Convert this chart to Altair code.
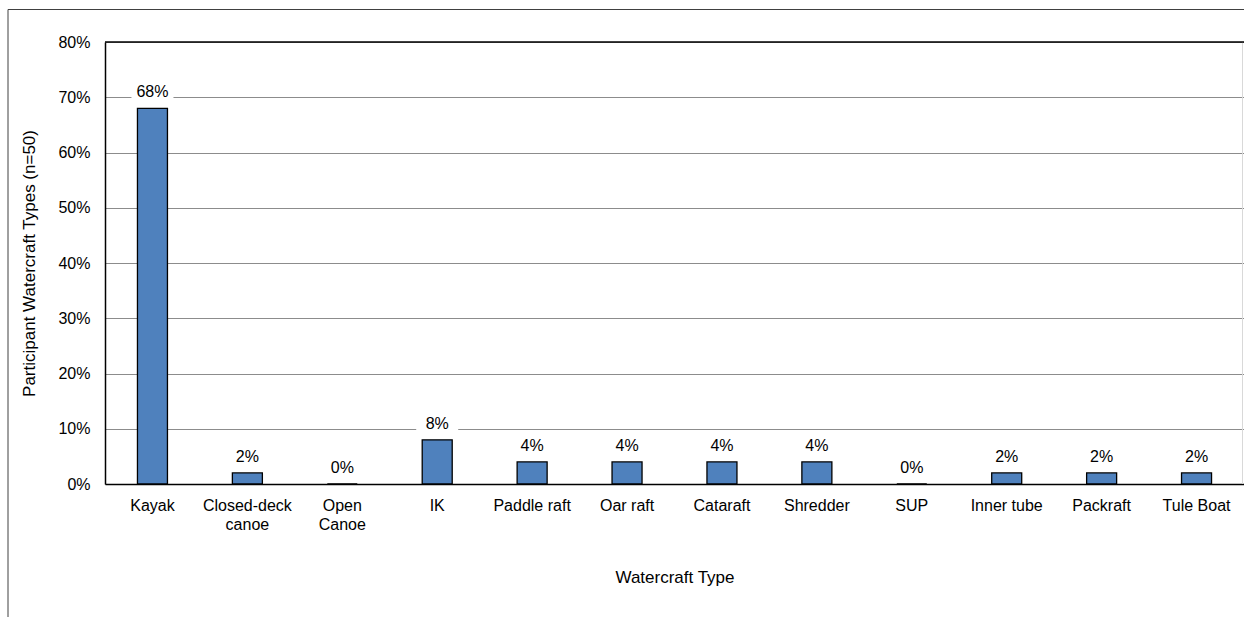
import altair as alt
import pandas as pd

categories = ["Kayak", "Closed-deck canoe", "Open Canoe", "IK", "Paddle raft", "Oar raft",
              "Cataraft", "Shredder", "SUP", "Inner tube", "Packraft", "Tule Boat"]
values = [68, 2, 0, 8, 4, 4, 4, 4, 0, 2, 2, 2]
y_ticks = [0, 10, 20, 30, 40, 50, 60, 70, 80]

df = pd.DataFrame({"cat": categories, "val": values})
df["lab"] = df["val"].astype(str) + "%"

FONT = "Liberation Sans"
W, H = 1139, 442

x_enc = alt.X("cat:N", sort=categories, title="Watercraft Type",
              scale=alt.Scale(paddingInner=0, paddingOuter=0),
              axis=alt.Axis(labelAngle=0, labelFontSize=16, labelColor="black", labelFont=FONT,
                            labelExpr="datum.label == 'Closed-deck canoe' || datum.label == 'Open Canoe' ? split(datum.label, ' ') : datum.label",
                            labelPadding=13, labelLineHeight=19, labelBaseline="top",
                            ticks=False, domainColor="black", domainWidth=1.5,
                            titleFontSize=17, titleFont=FONT, titleFontWeight="normal",
                            titleColor="black", titleY=93, titleBaseline="middle"))

y_scale = alt.Scale(domain=[0, 80], nice=False)

base = alt.Chart(df)

frame = alt.Chart(alt.Data(values=[{"a": 1}])).mark_rect(
    fillOpacity=0, stroke="#404040", strokeWidth=1
).encode(x=alt.value(8 - 105), x2=alt.value(1270 - 105), y=alt.value(9.5 - 42), y2=alt.value(700))

right_edge = alt.Chart(alt.Data(values=[{"a": 1}])).mark_rule(color="#d9d9d9", strokeWidth=1).encode(
    x=alt.value(W - 1.5), y=alt.value(0), y2=alt.value(H)
)

bars = base.mark_bar(width=30, color="#4F81BD", stroke="black", strokeWidth=1.3).encode(
    x=x_enc,
    y=alt.Y("val:Q", scale=y_scale, title="Participant Watercraft Types (n=50)",
            axis=alt.Axis(values=y_ticks, labelExpr="datum.value + '%'", labelFontSize=16,
                          labelFont=FONT, labelColor="black", labelPadding=15, ticks=False,
                          domainColor="black", domainWidth=1.5,
                          grid=True, gridColor="#8c8c8c", gridWidth=1.2,
                          titleFontSize=17, titleFont=FONT, titleFontWeight="normal",
                          titleColor="black", titleX=-76, titleY=H / 2, titleAngle=-90,
                          titleBaseline="middle", titleAlign="center")),
)

label_bg = base.mark_bar(width=42, color="white", yOffset=-24, y2Offset=-7).encode(
    x=alt.X("cat:N", sort=categories),
    y=alt.Y("val:Q", scale=y_scale),
    y2="val:Q",
)

labels = base.mark_text(fontSize=16, font=FONT, color="black", baseline="alphabetic", dy=-11).encode(
    x=alt.X("cat:N", sort=categories),
    y=alt.Y("val:Q", scale=y_scale),
    text="lab:N",
)

top_rule = alt.Chart(alt.Data(values=[{"a": 1}])).mark_rule(color="black", strokeWidth=1.5).encode(
    y=alt.datum(80, scale=y_scale)
)

chart = alt.layer(frame, right_edge, bars, label_bg, labels, top_rule).properties(
    width=W, height=H,
    autosize=alt.AutoSizeParams(type="none"),
    padding={"left": 105, "top": 42, "right": 0, "bottom": 133},
).configure_view(stroke=None).configure_axis(gridColor="#8c8c8c")

chart.save("out.html", embed_options={"renderer": "svg", "actions": False})
